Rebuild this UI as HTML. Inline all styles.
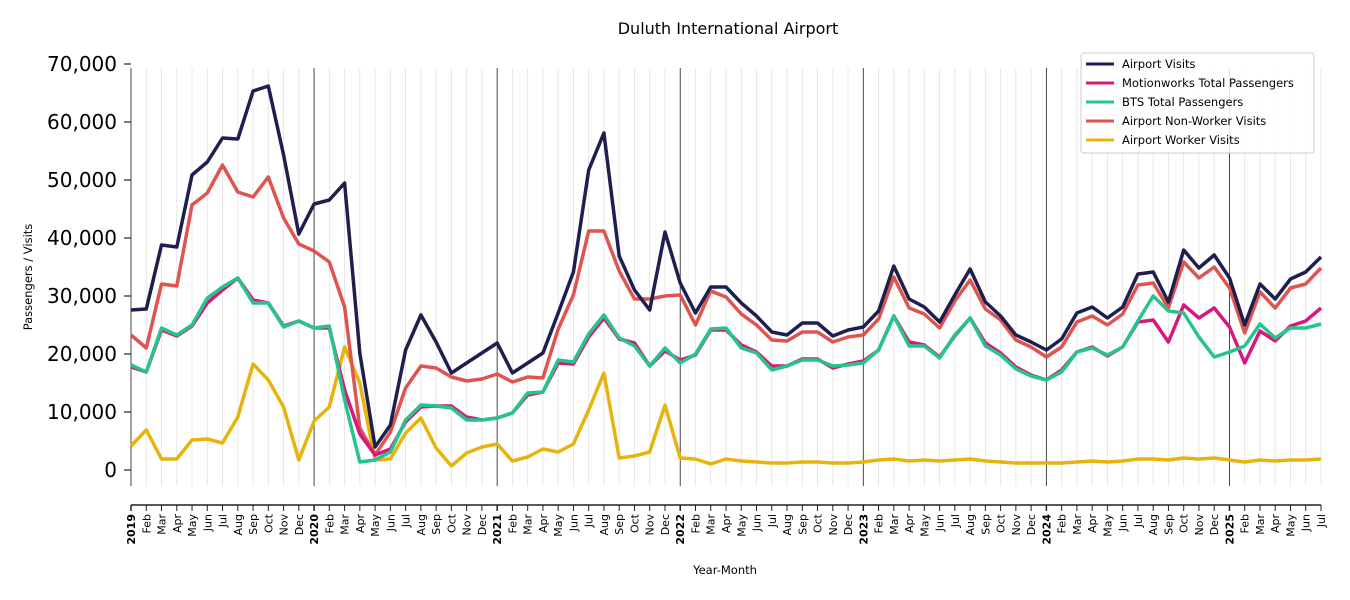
<!DOCTYPE html>
<html><head><meta charset="utf-8"><style>body{margin:0;background:#fff}svg{display:block}text{font-family:"DejaVu Sans","Liberation Sans",sans-serif}</style></head>
<body><svg id="s" width="1350" height="600" xmlns="http://www.w3.org/2000/svg">
<text x="728" y="34" font-size="16" text-anchor="middle">Duluth International Airport</text>
<text transform="translate(32,277) rotate(-90)" font-size="11.5" text-anchor="middle">Passengers / Visits</text>
<text x="725" y="574" font-size="11.5" text-anchor="middle">Year-Month</text>
<g id="g"></g>
<g id="d"></g>
<g>
<rect x="1081" y="53" width="233" height="100" rx="3" fill="#fff" fill-opacity="0.85" stroke="#ccc"/>
<line x1="1086" y1="64" x2="1114" y2="64" stroke="#1f1f4f" stroke-width="3"/><text x="1122" y="68" font-size="11.5">Airport Visits</text>
<line x1="1086" y1="83" x2="1114" y2="83" stroke="#d6197f" stroke-width="3"/><text x="1122" y="87" font-size="11.5">Motionworks Total Passengers</text>
<line x1="1086" y1="102" x2="1114" y2="102" stroke="#25c48c" stroke-width="3"/><text x="1122" y="106" font-size="11.5">BTS Total Passengers</text>
<line x1="1086" y1="121" x2="1114" y2="121" stroke="#e05450" stroke-width="3"/><text x="1122" y="125" font-size="11.5">Airport Non-Worker Visits</text>
<line x1="1086" y1="140" x2="1114" y2="140" stroke="#e6b40c" stroke-width="3"/><text x="1122" y="144" font-size="11.5">Airport Worker Visits</text>
</g>
</svg>
<script>
const NS="http://www.w3.org/2000/svg",g=document.getElementById('g'),d=document.getElementById('d');
function el(p,t,a,tx){const e=document.createElementNS(NS,t);for(const k in a)e.setAttribute(k,a[k]);if(tx!=null)e.textContent=tx;p.appendChild(e);return e;}
const X=i=>131+i*1190/78;
const M=["Jan","Feb","Mar","Apr","May","Jun","Jul","Aug","Sep","Oct","Nov","Dec"];
for(let i=0;i<79;i++){const x=X(i),yr=i%12==0;
 el(g,'line',{x1:x,y1:68,x2:x,y2:486,stroke:yr?'#333':'#e2e2e2','stroke-width':yr?0.9:0.8});
 el(g,'line',{x1:x,y1:505,x2:x,y2:511,stroke:'#222','stroke-width':yr?1.5:1});
 el(g,'text',{transform:`translate(${x+4},514) rotate(-90)`,'font-size':11,'text-anchor':'end','font-weight':yr?'bold':'normal'},yr?String(2019+i/12):M[i%12]);}
el(g,'line',{x1:131,y1:505,x2:1321,y2:505,stroke:'#222','stroke-width':1.5});
for(let v=0;v<=7;v++){const y=470-v*58;
 el(g,'line',{x1:124,y1:y,x2:131,y2:y,stroke:'#222','stroke-width':1.2});
 el(g,'text',{x:117,y:y+7,'font-size':20,'text-anchor':'end'},v==0?'0':(v*10)+',000');}
const S={
'#e6b40c':[446,430,459,459,440,439,443,417,364,380,407,460,421,407,347,383,460,459,433,418,448,466,453,447,444,461,457,449,452,444,410,373,458,456,452,405,458,459,464,459,461,462,463,463,462,462,463,463,462,460,459,461,460,461,460,459,461,462,463,463,463,463,462,461,462,461,459,459,460,458,459,458,460,462,460,461,460,460,459],
'#e05450':[335,348,284,286,205,193,165,192,197,177,218,244,251,262,307,428,455,432,388,366,368,377,381,379,374,382,377,378,329,295,231,231,271,299,299,296,295,325,291,297,314,325,340,341,332,332,342,337,335,319,277,308,314,328,301,280,309,320,340,347,357,347,322,316,325,314,285,283,308,262,278,267,288,333,292,308,288,284,268],
'#d6197f':[367,372,330,336,326,303,290,278,300,303,326,321,328,328,390,434,455,449,422,407,406,406,417,420,418,413,395,392,363,364,337,318,339,343,366,351,360,355,330,330,345,352,366,366,359,359,368,364,361,350,316,342,345,357,336,318,343,353,367,375,380,370,352,347,356,347,322,320,342,305,318,308,327,363,331,341,326,321,308],
'#25c48c':[365,372,328,335,325,298,287,278,303,303,327,321,328,326,400,462,460,452,420,405,406,408,420,420,418,413,393,392,360,362,334,315,338,346,366,348,363,354,329,328,348,353,370,366,360,360,366,365,363,350,316,346,346,358,335,318,346,355,369,376,380,372,352,348,355,347,321,296,311,313,337,357,352,346,324,338,328,328,324],
'#1f1f4f':[310,309,245,247,175,162,138,139,91,86,155,234,204,200,183,353,447,425,350,315,342,373,363,353,343,373,363,353,313,272,170,133,256,290,310,232,283,313,287,287,303,316,332,335,323,323,336,330,327,311,266,299,307,322,295,269,302,316,335,342,350,339,313,307,318,307,274,272,302,250,268,255,278,325,284,299,279,272,257]};
for(const c in S){el(d,'polyline',{points:S[c].map((y,i)=>X(i).toFixed(1)+','+y).join(' '),fill:'none',stroke:c,'stroke-width':3.5,'stroke-linejoin':'round'});}
</script>
</body></html>
